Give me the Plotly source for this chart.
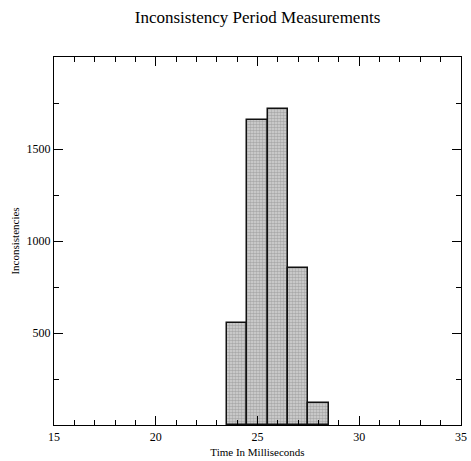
import plotly.graph_objects as go

# Data
time_ms = [24, 25, 26, 27, 28]
inconsistencies = [555, 1660, 1718, 855, 120]
x_ticks = [15, 20, 25, 30, 35]
y_ticks = [500, 1000, 1500]

SERIF = "Liberation Serif, Times New Roman, serif"

fig = go.Figure()
fig.add_trace(go.Bar(
    x=time_ms, y=inconsistencies, width=1,
    marker=dict(
        color="#c4c4c4",
        line=dict(color="#111111", width=1.5),
        pattern=dict(shape=".", size=3, solidity=0.6, fgcolor="#7c7c7c", bgcolor="#d6d6d6"),
    ),
))

axis_common = dict(
    showline=True, linecolor="black", linewidth=1.2, mirror="ticks",
    ticks="inside", tickcolor="black", tickwidth=1, ticklen=9,
    showgrid=False, zeroline=False, automargin=False,
    tickfont=dict(family=SERIF, size=12, color="black"),
)

fig.update_layout(
    width=471, height=461,
    margin=dict(l=54, r=10, t=57, b=36),
    paper_bgcolor="white", plot_bgcolor="white",
    showlegend=False, bargap=0,
    title=dict(text="Inconsistency Period Measurements", x=0.5, xref="paper", xanchor="center",
               y=0.963, yanchor="middle",
               font=dict(family=SERIF, size=17, color="black")),
    xaxis=dict(range=[15, 35], tickvals=x_ticks, ticktext=[str(v) for v in x_ticks],
               minor=dict(dtick=1, tick0=15, ticks="inside", ticklen=5, tickcolor="black"),
               title=dict(text="Time In Milliseconds", standoff=5,
                          font=dict(family=SERIF, size=11, color="black")),
               **axis_common),
    yaxis=dict(range=[0, 2000], tickvals=y_ticks, ticktext=[str(v) for v in y_ticks],
               minor=dict(dtick=250, tick0=0, ticks="inside", ticklen=5, tickcolor="black"),
               title=dict(text="Inconsistencies", standoff=4,
                          font=dict(family=SERIF, size=11, color="black")),
               **axis_common),
)

fig.write_html("out.html")
